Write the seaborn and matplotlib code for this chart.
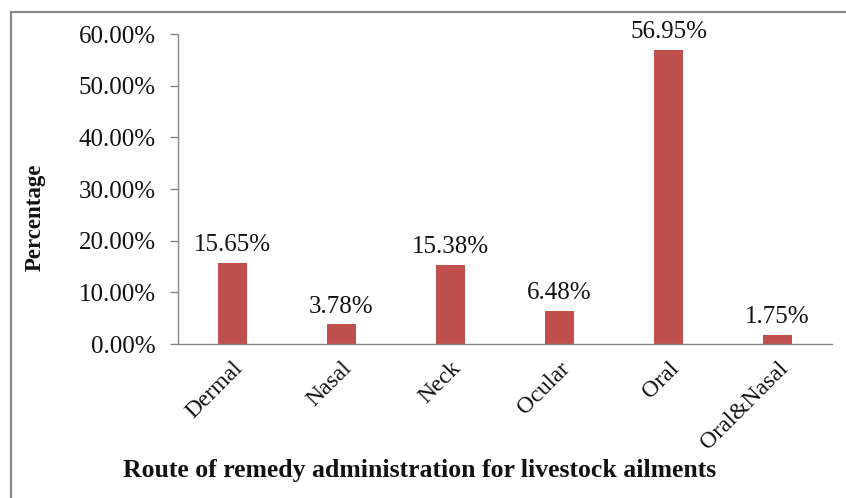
import matplotlib
matplotlib.use('Agg')
import matplotlib.pyplot as plt
import seaborn as sns
import pandas as pd
from matplotlib.patches import Rectangle

categories = ["Dermal", "Nasal", "Neck", "Ocular", "Oral", "Oral&Nasal"]
values = [15.65, 3.78, 15.38, 6.48, 56.95, 1.75]
yticks = [0, 10, 20, 30, 40, 50, 60]
ytick_labels = ["0.00%", "10.00%", "20.00%", "30.00%", "40.00%", "50.00%", "60.00%"]
bar_labels = ["15.65%", "3.78%", "15.38%", "6.48%", "56.95%", "1.75%"]

sns.set_theme(style='white')
plt.rcParams['font.family'] = ['Liberation Serif', 'DejaVu Serif']

W, H = 846, 498
fig = plt.figure(figsize=(W / 100, H / 100), dpi=100)
ax = fig.add_axes([178 / W, 1 - 344 / H, (832 - 178) / W, (344 - 34) / H])

df = pd.DataFrame({'route': categories, 'pct': values})
sns.barplot(data=df, x='route', y='pct', color='#C0504D', width=0.26,
            saturation=1, linewidth=0, ax=ax)

FS = 18
ax.set_xlim(-0.5, 5.5)
ax.set_ylim(0, 60)
ax.set_yticks(yticks)
ax.set_yticklabels(ytick_labels, fontsize=FS, color='#111111')
ax.set_xticks(range(len(categories)))
ax.set_xticklabels(categories, fontsize=17, rotation=45, ha='right',
                   rotation_mode='anchor', color='#111111')
ax.set_xlabel('')
ax.set_ylabel('')

for s in ['top', 'right']:
    ax.spines[s].set_visible(False)
for s in ['left', 'bottom']:
    ax.spines[s].set_color('#888888')
    ax.spines[s].set_linewidth(1)
ax.tick_params(axis='y', direction='out', length=6, width=1, color='#888888', pad=10, left=True)
ax.tick_params(axis='x', length=0, pad=10)

ax.bar_label(ax.containers[0], labels=bar_labels, padding=5, fontsize=FS, color='#111111')

fig.text(35 / W, 1 - 217 / H, 'Percentage', rotation=90, ha='center', va='center',
         fontsize=16.5, fontweight='bold', color='#111111')
fig.text(420 / W, 1 - 470 / H, 'Route of remedy administration for livestock ailments',
         ha='center', va='center', fontsize=18.5, fontweight='bold', color='#111111')

border = Rectangle((10.5 / W, -0.1), 1.2, 1.1 - 12.5 / H, transform=fig.transFigure,
                   fill=False, edgecolor='#8a8a8a', linewidth=1.6, clip_on=False)
fig.patches.append(border)

fig.savefig('out.png', dpi=100)
